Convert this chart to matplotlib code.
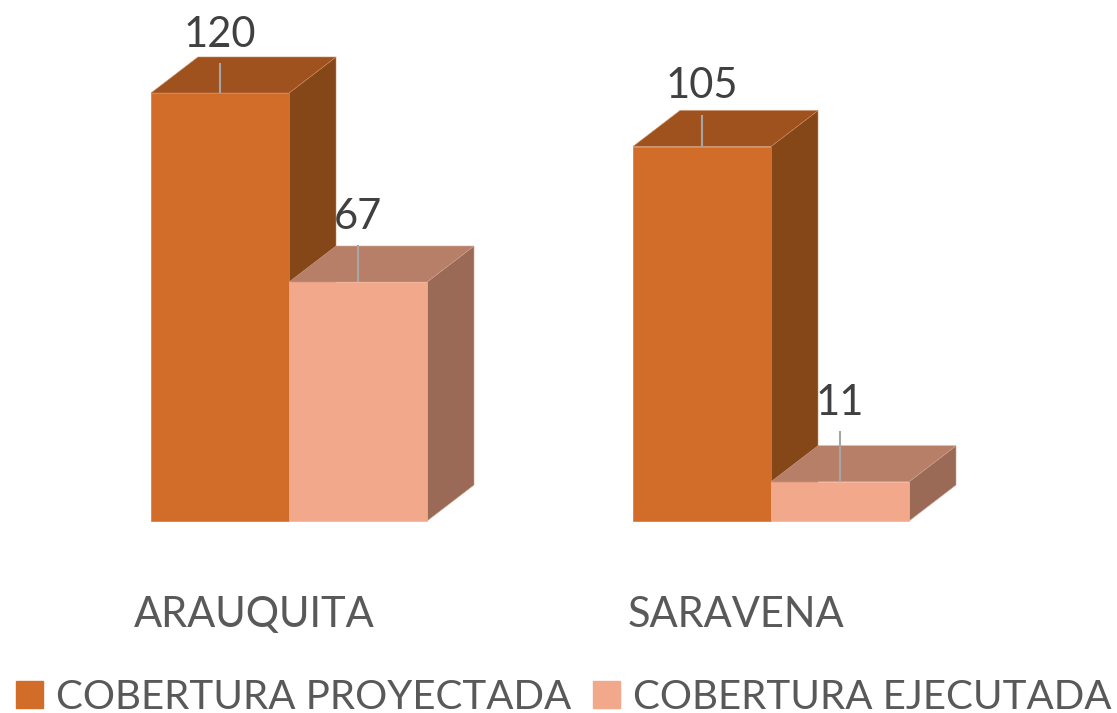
import matplotlib
matplotlib.use('Agg')
import matplotlib.pyplot as plt
from matplotlib.patches import Polygon, Patch

categories = ['ARAUQUITA', 'SARAVENA']
proyectada = [120, 105]
ejecutada = [67, 11]
series_names = ['COBERTURA PROYECTADA', 'COBERTURA EJECUTADA']

plt.rcParams['font.family'] = ['Lato', 'DejaVu Sans']

# pixel scale of the picture
W, H = 1117, 713
px_x = 482  # px between groups
px_y = 428 / 120  # px per unit
x0_px, y0_px = 289, 521

bar_w = 138 / px_x
dx = 47 / px_x  # depth of the fake 3d
dy = 36 / px_y

front = ['#D26D29', '#F2A88B']
top = ['#9F521D', '#B77F67']
side = ['#854618', '#9A6A57']
edge = ['#D8773A', '#F4B096']
edge_back = ['#C98A60', '#CBA08C']

# leader line length for each label, in px
leaders = [[30, 37], [32, 51]]

fig = plt.figure(figsize=(W / 100, H / 100), dpi=100)
ax = fig.add_axes([0, 0, 1, 1])
ax.set_xlim(-x0_px / px_x, (W - x0_px) / px_x)
ax.set_ylim(-(H - y0_px) / px_y, y0_px / px_y)
ax.axis('off')


def draw_bar(left, val, s):
    right = left + bar_w
    ax.add_patch(Polygon([(right, 0), (right + dx, dy), (right + dx, val + dy), (right, val)],
                         fc=side[s], ec=edge_back[s], lw=0.4, zorder=2 + s))
    ax.add_patch(Polygon([(left, val), (left + dx, val + dy), (right + dx, val + dy), (right, val)],
                         fc=top[s], ec=edge_back[s], lw=0.4, zorder=2 + s))
    ax.bar(left, val, bar_w, align='edge', color=front[s], edgecolor=edge[s], lw=0.5, zorder=2 + s)


for i, cat in enumerate(categories):
    vals = [proyectada[i], ejecutada[i]]
    for s, val in enumerate(vals):
        left = i - bar_w + s * bar_w
        draw_bar(left, val, s)
        xc = left + bar_w / 2
        ln = leaders[i][s] / px_y
        ax.plot([xc, xc], [val, val + ln], color='#A6A6A6', lw=1.5, solid_capstyle='butt', zorder=5)
        ax.text(xc, val + ln + 28 / px_y, str(val), ha='center', va='center',
                fontsize=30, color='#404040', zorder=6)
    ax.text(i - 35 / px_x, -94 / px_y, cat, ha='center', va='center', fontsize=30, color='#595959')

handles = [Patch(color=front[0]), Patch(color=front[1])]
ax.legend(handles, series_names, ncol=2, loc='lower left', bbox_to_anchor=(0.0145, -0.004),
          frameon=False, fontsize=29, labelcolor='#595959', handlelength=0.67, handleheight=0.67,
          handletextpad=0.32, columnspacing=0.55, borderpad=0, borderaxespad=0)

plt.savefig('out.png', dpi=100)
